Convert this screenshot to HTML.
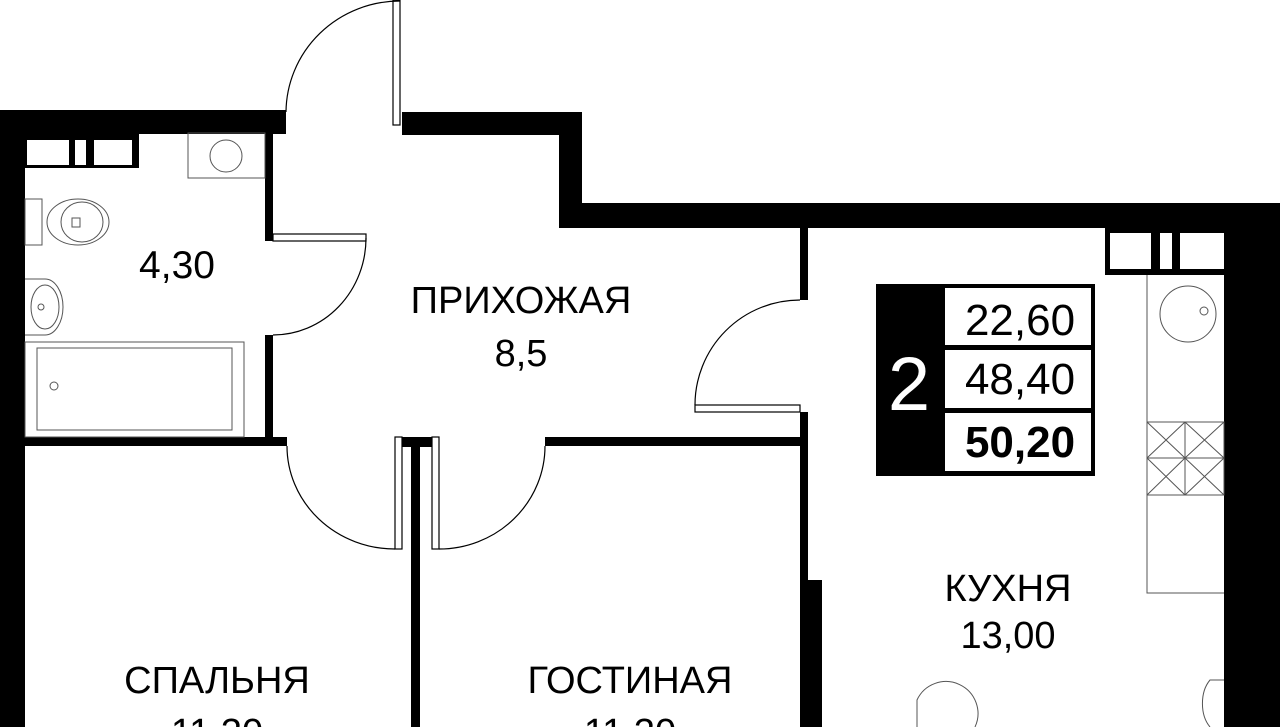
<!DOCTYPE html>
<html><head><meta charset="utf-8"><style>
html,body{margin:0;padding:0;background:#fff;}
svg{display:block;}
text{font-family:"Liberation Sans","DejaVu Sans",sans-serif;fill:#000;}
</style></head><body>
<svg width="1280" height="727" viewBox="0 0 1280 727" xmlns="http://www.w3.org/2000/svg">
<g fill="#000">
<rect x="0" y="110" width="286" height="24"/>
<rect x="0" y="110" width="25" height="617"/>
<rect x="402" y="112" width="180" height="23"/>
<rect x="559" y="112" width="23" height="116"/>
<rect x="559" y="203" width="721" height="25"/>
<rect x="1224" y="203" width="56" height="524"/>
<rect x="265" y="133" width="8" height="108"/>
<rect x="265" y="335" width="8" height="110"/>
<rect x="25" y="437" width="262" height="9"/>
<rect x="402" y="437" width="33" height="10"/>
<rect x="411" y="437" width="9" height="290"/>
<rect x="545" y="437" width="263" height="9"/>
<rect x="800" y="228" width="8" height="72"/>
<rect x="800" y="412" width="8" height="170"/>
<rect x="800" y="580" width="22" height="147"/>
<rect x="25" y="133" width="114" height="35"/>
<rect x="1105" y="228" width="119" height="47"/>
<rect x="876" y="284" width="219" height="192"/>
</g>
<g fill="#fff">
<rect x="27" y="140" width="42" height="25"/>
<rect x="75" y="140" width="11" height="25"/>
<rect x="94" y="140" width="38" height="25"/>
<rect x="1110" y="233" width="41" height="36"/>
<rect x="1160" y="233" width="12" height="36"/>
<rect x="1180" y="233" width="44" height="36"/>
<rect x="945" y="288" width="146" height="57"/>
<rect x="945" y="350" width="146" height="58"/>
<rect x="945" y="413" width="146" height="58"/>
</g>
<g fill="none" stroke="#000" stroke-width="1.2">
<rect x="393" y="0" width="7" height="125" fill="#fff"/>
<path d="M286,112 A114,112 0 0 1 400,1"/>
<rect x="273" y="234" width="93" height="7" fill="#fff"/>
<path d="M366,238 A93,97 0 0 1 273,335"/>
<rect x="395" y="437" width="7" height="112" fill="#fff"/>
<path d="M287,446 A108,103 0 0 0 395,549"/>
<rect x="432" y="437" width="7" height="112" fill="#fff"/>
<path d="M545,446 A106,103 0 0 1 439,549"/>
<rect x="695" y="405" width="105" height="7" fill="#fff"/>
<path d="M695,405 A105,105 0 0 1 800,300"/>
</g>
<g fill="none" stroke="#555" stroke-width="1">
<rect x="188" y="133" width="77" height="45"/>
<circle cx="226" cy="156" r="16"/>
<rect x="25" y="199" width="17" height="46"/>
<ellipse cx="78" cy="222" rx="31" ry="23"/>
<ellipse cx="82" cy="222" rx="21" ry="20"/>
<rect x="72" y="218" width="8" height="9"/>
<path d="M25,279 L45,279 A18,28 0 0 1 45,335 L25,335"/>
<ellipse cx="45" cy="307" rx="14" ry="22"/>
<circle cx="41" cy="307" r="3"/>
<rect x="25" y="342" width="219" height="95"/>
<rect x="37" y="348" width="195" height="82"/>
<circle cx="54" cy="386" r="4"/>
<path d="M1147,275 L1147,593 L1224,593"/>
<circle cx="1188" cy="314" r="28"/>
<circle cx="1204" cy="311" r="4"/>
<rect x="1147" y="422" width="77" height="73"/>
<path d="M1185,422 V495 M1147,458 H1224 M1147,422 L1185,458 M1185,422 L1147,458 M1185,422 L1224,458 M1224,422 L1185,458 M1147,458 L1185,495 M1185,458 L1147,495 M1185,458 L1224,495 M1224,458 L1185,495"/>
<path d="M917,727 L917,700 A30,30 0 0 1 975,727"/>
<path d="M1224,680 L1210,680 A20,30 0 0 0 1210,727"/>
</g>
<text x="177" y="278" font-size="39" text-anchor="middle">4,30</text>
<text x="521" y="313" font-size="38" text-anchor="middle">ПРИХОЖАЯ</text>
<text x="521" y="366" font-size="38" text-anchor="middle">8,5</text>
<text x="1008" y="601" font-size="38" text-anchor="middle">КУХНЯ</text>
<text x="1008" y="648" font-size="38" text-anchor="middle">13,00</text>
<text x="217" y="693" font-size="38" text-anchor="middle">СПАЛЬНЯ</text>
<text x="217" y="745" font-size="38" text-anchor="middle">11,30</text>
<text x="630" y="693" font-size="38" text-anchor="middle">ГОСТИНАЯ</text>
<text x="630" y="745" font-size="38" text-anchor="middle">11,30</text>
<text x="909" y="410" font-size="76" text-anchor="middle" style="fill:#fff">2</text>
<text x="1020" y="335" font-size="44" text-anchor="middle">22,60</text>
<text x="1020" y="394" font-size="44" text-anchor="middle">48,40</text>
<text x="1020" y="457" font-size="44" font-weight="bold" text-anchor="middle">50,20</text>
</svg>
</body></html>
